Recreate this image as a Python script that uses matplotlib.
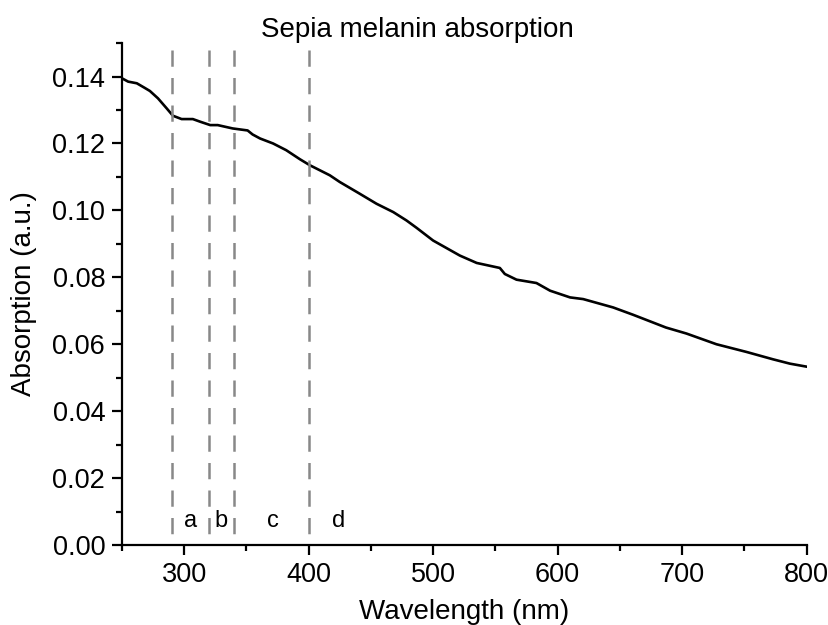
import matplotlib.pyplot as plt
from matplotlib.ticker import MultipleLocator

plt.rcParams['font.family'] = ['Liberation Sans', 'DejaVu Sans']

# absorption spectrum
wavelength = [250, 255, 262, 268, 272.5, 279, 286, 291, 298, 307, 313, 321, 327, 339,
              351, 355, 361, 371.5, 382, 393, 401, 417, 425, 441, 454.5, 468, 478.6,
              486.7, 500, 521.5, 535, 553.6, 557.6, 567, 583, 594, 610, 620.5, 644.6,
              660.7, 687, 703.5, 727.6, 751.7, 773, 786.6, 800]
absorption = [0.1395, 0.1385, 0.138, 0.1367, 0.1357, 0.1335, 0.1305, 0.1283, 0.1273,
              0.1273, 0.1265, 0.1255, 0.1255, 0.1245, 0.1239, 0.1227, 0.1215, 0.12,
              0.118, 0.1153, 0.1135, 0.1105, 0.1085, 0.105, 0.102, 0.0995, 0.097,
              0.0948, 0.091, 0.0865, 0.0843, 0.0828, 0.081, 0.0793, 0.0783, 0.076,
              0.074, 0.0735, 0.071, 0.0688, 0.065, 0.0632, 0.06, 0.0577, 0.0555,
              0.0542, 0.0533]

region_edges = [290, 320, 340, 400]
region_labels = ['a', 'b', 'c', 'd']
label_x = [305.5, 329.5, 371, 424]

fig = plt.figure(figsize=(8.29, 6.25), dpi=100)
ax = fig.add_axes([0.147, 0.128, 0.826, 0.803])

ax.plot(wavelength, absorption, color='black', lw=1.9)
# dashed separators, drawn top-down so the pattern starts at the top
for xe in region_edges:
    ax.plot([xe, xe], [0.148, 0], color='#888888', lw=1.8, ls=(0, (6.5, 4.5)))
for lx, lab in zip(label_x, region_labels):
    ax.text(lx, 0.0072, lab, fontsize=17, ha='center', va='center')

ax.set_xlim(250, 800)
ax.set_ylim(0, 0.15)
ax.xaxis.set_major_locator(MultipleLocator(100))
ax.xaxis.set_minor_locator(MultipleLocator(50))
ax.yaxis.set_major_locator(MultipleLocator(0.02))
ax.yaxis.set_minor_locator(MultipleLocator(0.01))
ax.yaxis.set_major_formatter(plt.FormatStrFormatter('%.2f'))

for s in ['top', 'right']:
    ax.spines[s].set_visible(False)
for s in ['left', 'bottom']:
    ax.spines[s].set_linewidth(1.6)
ax.tick_params(which='major', direction='out', length=7, width=1.6, labelsize=19.5, pad=5)
ax.tick_params(which='minor', direction='out', length=4, width=1.6)

ax.set_xlabel('Wavelength (nm)', fontsize=20, labelpad=8)
ax.set_ylabel('Absorption (a.u.)', fontsize=20, labelpad=11)
fig.text(0.504, 0.941, 'Sepia melanin absorption', fontsize=20, ha='center', va='baseline')

fig.savefig('out.png', dpi=100)
